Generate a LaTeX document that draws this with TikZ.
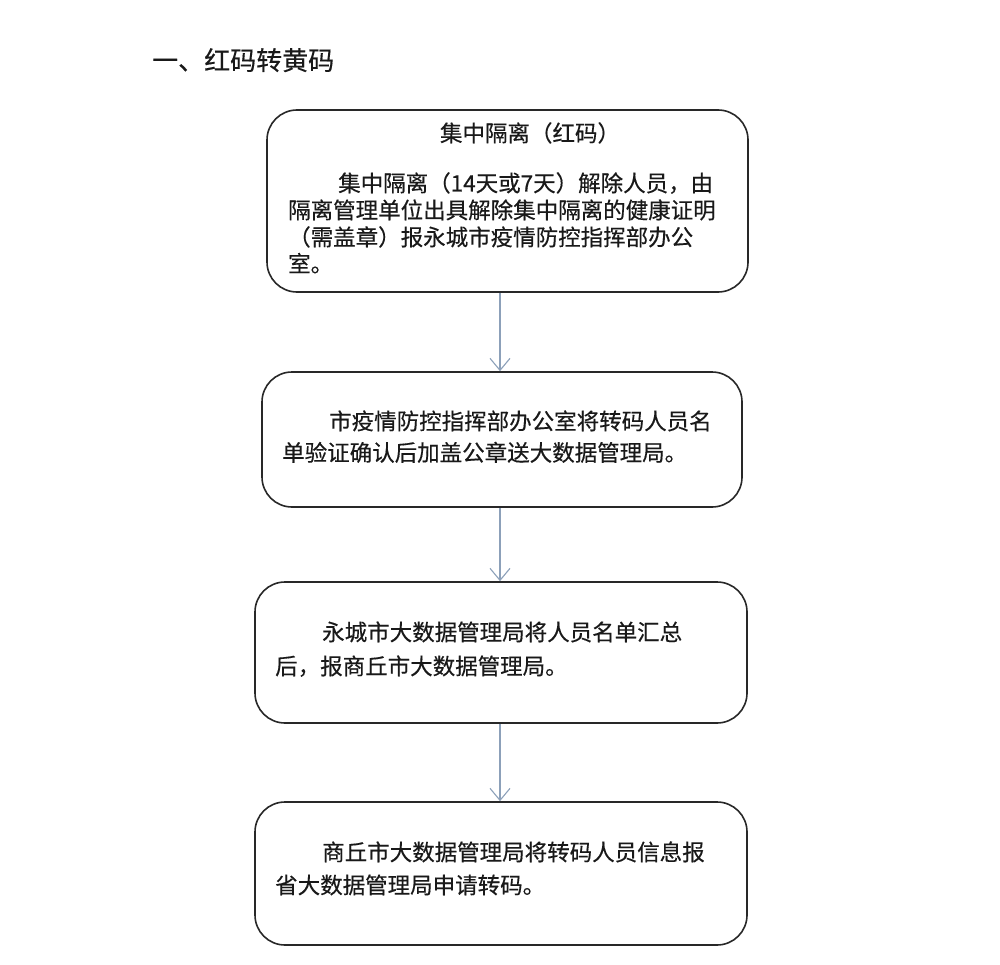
\documentclass[tikz,border=0pt]{standalone}
\usepackage{fontspec}
\setmainfont[UprightFeatures={FakeBold=0.35}]{Noto Sans CJK SC}
\usetikzlibrary{arrows.meta}
\definecolor{boxline}{RGB}{40,40,40}
\definecolor{arrowc}{RGB}{140,160,185}
\definecolor{txt}{RGB}{25,25,25}
\tikzset{
  flowbox/.style={draw=boxline, line width=1.6pt, rounded corners=30pt, inner sep=0pt, fill=white},
  bodytext/.style={anchor=base west, inner sep=0pt, text=txt, font=\fontsize{22.5pt}{27pt}\selectfont},
  heading/.style={anchor=base west, inner sep=0pt, text=txt, font=\fontsize{26pt}{30pt}\selectfont},
  flowarrow/.style={draw=arrowc, line width=1.1pt, -{Straight Barb[length=12pt,width=20pt,line width=1.1pt]}}
}
\begin{document}
\begin{tikzpicture}[x=1pt,y=-1pt]
\useasboundingbox (0,0) rectangle (1000,965);
\fill[white] (0,0) rectangle (1000,965);
% heading
\node[heading] (head) at (152,70) {一、红码转黄码};
% boxes
\node[flowbox, minimum width=481pt, minimum height=182pt] (b1) at (507.5,201) {};
\node[flowbox, minimum width=480pt, minimum height=135pt] (b2) at (502,439.5) {};
\node[flowbox, minimum width=492pt, minimum height=141pt] (b3) at (501,652.5) {};
\node[flowbox, minimum width=492pt, minimum height=143pt] (b4) at (501,873.5) {};
% box 1 text
\node[bodytext, anchor=base] (t1h) at (530,141.5) {集中隔离（红码）};
\node[bodytext] (t1a) at (338,191.5) {集中隔离（14天或7天）解除人员，由};
\node[bodytext] (t1b) at (288,218.5) {隔离管理单位出具解除集中隔离的健康证明};
\node[bodytext] (t1c) at (288,245.5) {（需盖章）报永城市疫情防控指挥部办公};
\node[bodytext] (t1d) at (288,272) {室。};
% box 2 text
\node[bodytext] (t2a) at (329,429.5) {市疫情防控指挥部办公室将转码人员名};
\node[bodytext] (t2b) at (282,461) {单验证确认后加盖公章送大数据管理局。};
% box 3 text
\node[bodytext] (t3a) at (322,640.5) {永城市大数据管理局将人员名单汇总};
\node[bodytext] (t3b) at (275,674.5) {后，报商丘市大数据管理局。};
% box 4 text
\node[bodytext] (t4a) at (322,860.5) {商丘市大数据管理局将转码人员信息报};
\node[bodytext] (t4b) at (275,893.5) {省大数据管理局申请转码。};
% arrows
\coordinate (ax) at (500,0);
\draw[flowarrow] (b1.south -| ax) -- (b2.north -| ax);
\draw[flowarrow] (b2.south -| ax) -- (b3.north -| ax);
\draw[flowarrow] (b3.south -| ax) -- (b4.north -| ax);
\end{tikzpicture}
\end{document}
